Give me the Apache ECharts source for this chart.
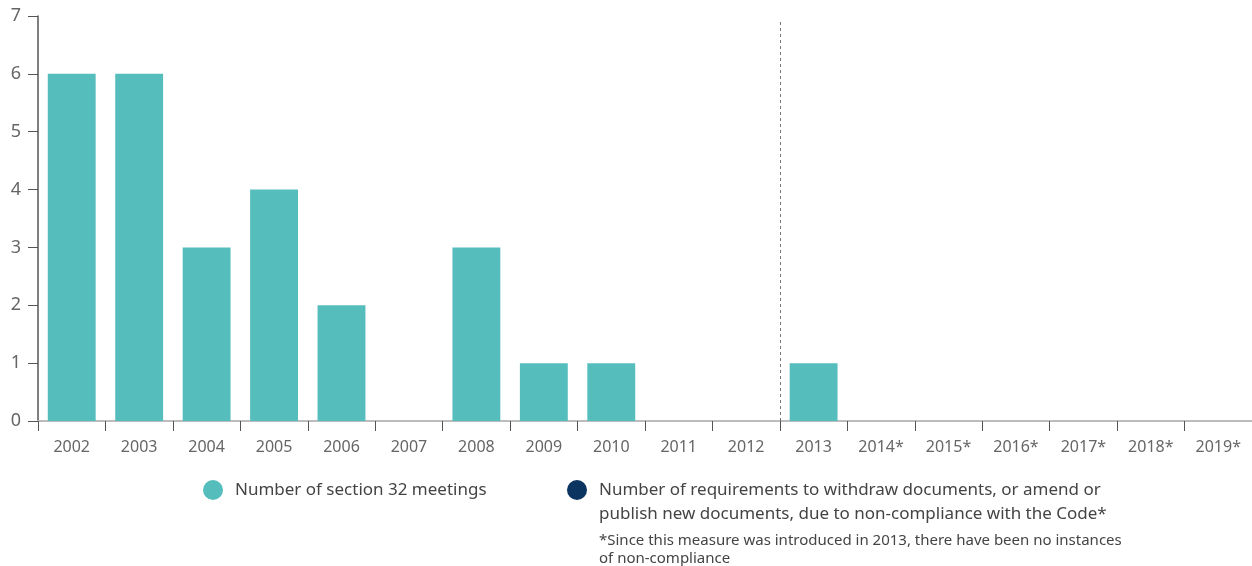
<!DOCTYPE html>
<html><head><meta charset="utf-8">
<script src="https://cdn.jsdelivr.net/npm/echarts@6/dist/echarts.min.js"></script>
<style>html,body{margin:0;padding:0;background:#fff}#c{width:1252px;height:566px}</style>
</head><body><div id="c"></div>
<script>
const categories = ['2002','2003','2004','2005','2006','2007','2008','2009','2010','2011','2012','2013','2014*','2015*','2016*','2017*','2018*','2019*'];
const meetings = [6,6,3,4,2,0,3,1,1,0,0,1,0,0,0,0,0,0];
const requirements = [null,null,null,null,null,null,null,null,null,null,null,0,0,0,0,0,0,0];
const yTicks = [0,1,2,3,4,5,6,7];
const measureStartIndex = 11; // 2013 boundary
const seriesNames = ['Number of section 32 meetings','Number of requirements to withdraw documents, or amend or'];
const legend2Line2 = 'publish new documents, due to non-compliance with the Code*';
const footnote = '*Since this measure was introduced in 2013, there have been no instances\nof non-compliance';

const FONT = 'Noto Sans';
const chart = echarts.init(document.getElementById('c'));
chart.setOption({
  animation:false,
  textStyle:{fontFamily:FONT},
  grid:{left:38, top:16, width:1218, height:405},
  xAxis:[{
    type:'category', data:categories, boundaryGap:true,
    axisLine:{lineStyle:{color:'#bcbcbc', width:2}},
    axisTick:{show:true, length:10, lineStyle:{color:'#555'}, interval:0},
    axisLabel:{color:'#666', fontSize:16, margin:18, interval:0, fontFamily:FONT}
  },{
    type:'value', min:0, max:categories.length, show:false
  }],
  yAxis:{
    type:'value', min:yTicks[0], max:yTicks[yTicks.length-1], interval:1,
    axisLine:{show:true, lineStyle:{color:'#555', width:1.5}},
    axisTick:{show:true, length:10, lineStyle:{color:'#555'}},
    splitLine:{show:false},
    axisLabel:{color:'#666', fontSize:18, margin:17, fontFamily:FONT}
  },
  legend:[{
    data:[seriesNames[0]], left:203, top:480, padding:0, icon:'circle', itemWidth:34, itemHeight:20,
    textStyle:{fontSize:17, color:'#444', fontFamily:FONT}, selectedMode:false
  },{
    data:[seriesNames[1]], left:567, top:480, padding:0, icon:'circle', itemWidth:34, itemHeight:20,
    textStyle:{fontSize:17, color:'#444', fontFamily:FONT}, selectedMode:false
  }],
  graphic:[{
    type:'text', left:599, top:506,
    style:{text:legend2Line2, fontSize:17, fill:'#444', fontFamily:FONT}
  },{
    type:'text', left:599, top:532,
    style:{text:footnote, fontSize:15, fill:'#444', lineHeight:18, fontFamily:FONT}
  }],
  series:[{
    name:seriesNames[0], type:'bar', data:meetings, barWidth:'71%', barGap:'-100%',
    itemStyle:{color:'#56bdbd'}
  },{
    name:seriesNames[1], type:'bar', data:requirements, barWidth:'71%',
    itemStyle:{color:'#0b3560'}
  },{
    type:'line', xAxisIndex:1, data:[], symbol:'none',
    markLine:{
      silent:true, symbol:'none', label:{show:false},
      lineStyle:{color:'#777', type:[3,3], width:1},
      data:[[{coord:[measureStartIndex,0]},{coord:[measureStartIndex,6.93]}]]
    }
  }]
});
</script></body></html>
